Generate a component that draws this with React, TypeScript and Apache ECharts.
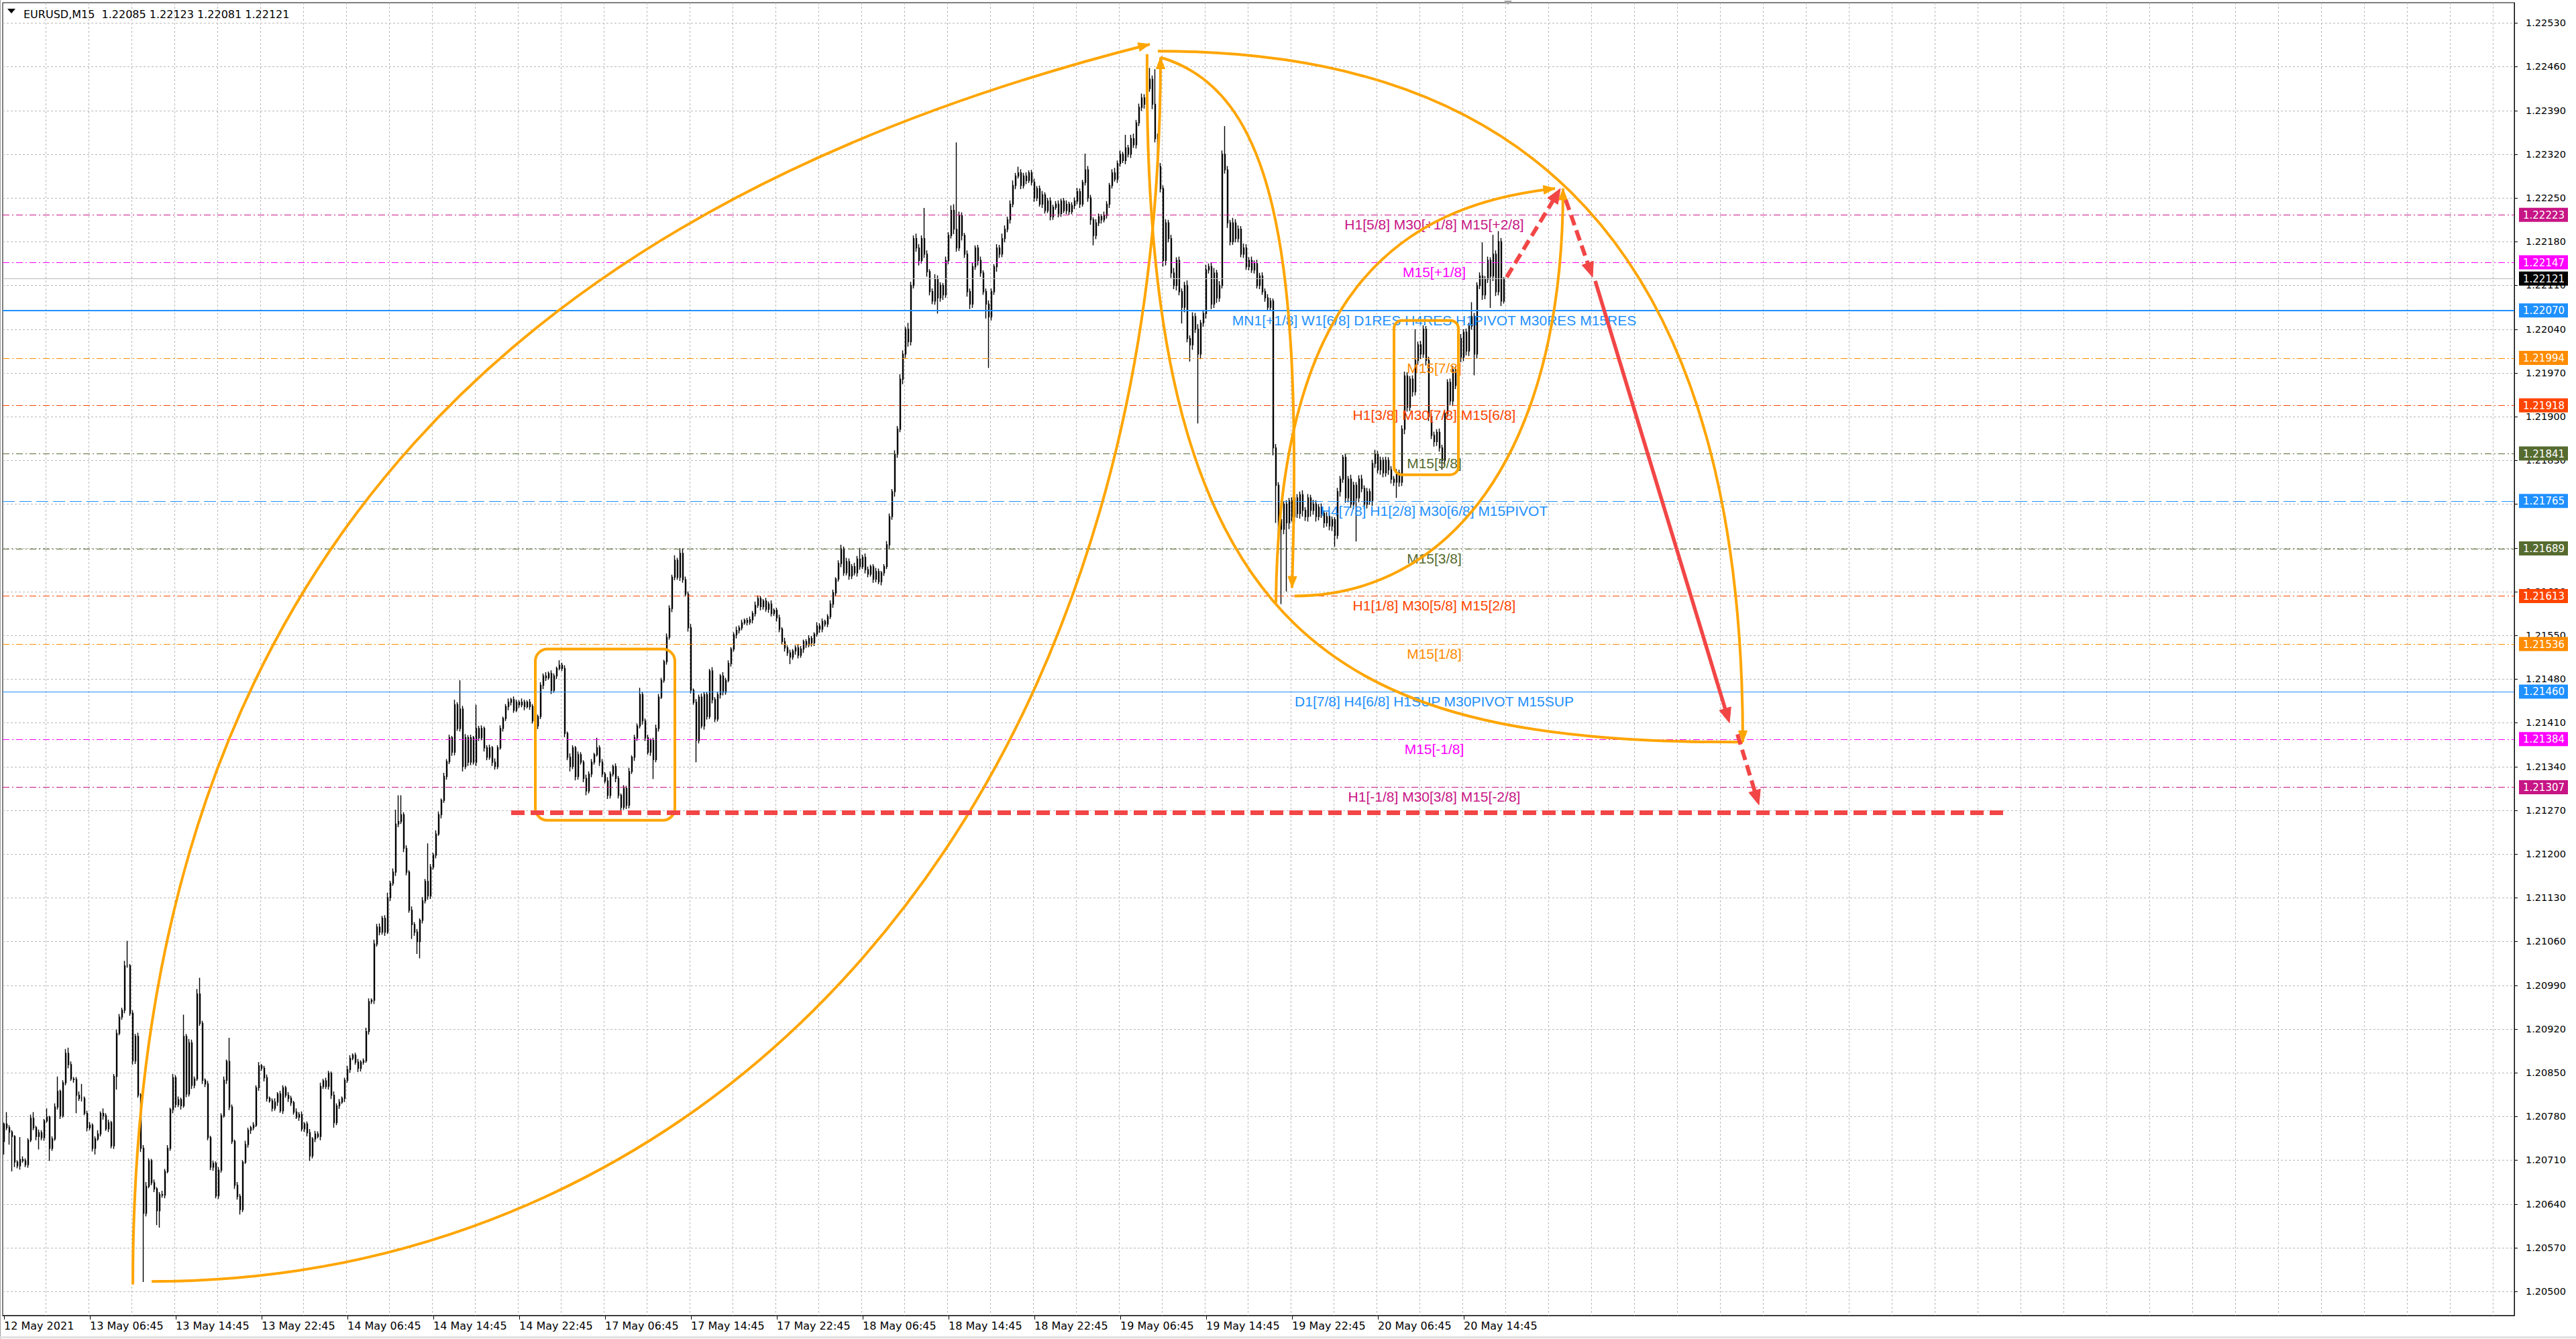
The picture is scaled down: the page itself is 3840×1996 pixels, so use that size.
import React, { useEffect, useRef } from 'react';
import * as echarts from 'echarts';

// ---- header / axes ----
const HEADER = 'EURUSD,M15  1.22085 1.22123 1.22081 1.22121';

const TIME_LABELS = [
  '12 May 2021', '13 May 06:45', '13 May 14:45', '13 May 22:45', '14 May 06:45',
  '14 May 14:45', '14 May 22:45', '17 May 06:45', '17 May 14:45', '17 May 22:45',
  '18 May 06:45', '18 May 14:45', '18 May 22:45', '19 May 06:45', '19 May 14:45',
  '19 May 22:45', '20 May 06:45', '20 May 14:45',
];
const BARS_PER_LABEL = 32;
const BARS_PER_GRID = 16;
const SLOT_COUNT = 936;

const PRICE_TICKS = [
  1.205, 1.2057, 1.2064, 1.2071, 1.2078, 1.2085, 1.2092, 1.2099, 1.2106, 1.2113,
  1.212, 1.2127, 1.2134, 1.2141, 1.2148, 1.2155, 1.2162, 1.2169, 1.2176, 1.2183,
  1.219, 1.2197, 1.2204, 1.2211, 1.2218, 1.2225, 1.2232, 1.2239, 1.2246, 1.2253,
];
const PRICE_TICK_LABELS = [
  '1.20500', '1.20570', '1.20640', '1.20710', '1.20780', '1.20850', '1.20920', '1.20990', '1.21060', '1.21130',
  '1.21200', '1.21270', '1.21340', '1.21410', '1.21480', '1.21550', '1.21620', '1.21690', '1.21760', '1.21830',
  '1.21900', '1.21970', '1.22040', '1.22110', '1.22180', '1.22250', '1.22320', '1.22390', '1.22460', '1.22530',
];
const Y_MIN = 1.204614;
const Y_MAX = 1.225625;

// ---- M15 candles: prices in points above 1.20000 ----
const FIRST_OPEN = 740;
const CLOSE_PTS = [
  768, 762, 755, 748, 707, 701, 711, 709, 703, 742, 777, 762, 748, 754, 746, 773, 779, 729, 744, 795,
  820, 781, 834, 881, 863, 840, 839, 814, 809, 809, 785, 762, 766, 729, 744, 752, 785, 781, 760, 770,
  733, 844, 913, 939, 950, 1021, 1021, 945, 869, 908, 814, 729, 625, 668, 709, 674, 664, 629, 655, 654,
  692, 729, 791, 842, 799, 807, 797, 908, 816, 898, 830, 840, 976, 929, 838, 832, 746, 699, 705, 653,
  694, 781, 838, 868, 795, 740, 670, 652, 631, 707, 735, 758, 762, 766, 826, 861, 857, 842, 809, 805,
  793, 803, 816, 789, 826, 814, 809, 802, 787, 779, 783, 760, 768, 754, 717, 744, 752, 748, 828, 837,
  828, 849, 814, 770, 797, 803, 809, 838, 855, 873, 878, 867, 857, 867, 869, 916, 964, 966, 1056, 1083,
  1075, 1097, 1075, 1130, 1153, 1171, 1248, 1252, 1263, 1209, 1171, 1110, 1087, 1075, 1060, 1094, 1125, 1156, 1133, 1179,
  1198, 1232, 1263, 1286, 1324, 1348, 1386, 1363, 1439, 1401, 1432, 1340, 1386, 1347, 1386, 1347, 1401, 1386, 1401, 1370,
  1355, 1370, 1347, 1340, 1370, 1401, 1417, 1436, 1443, 1447, 1430, 1443, 1439, 1443, 1436, 1443, 1436, 1413, 1405, 1420,
  1470, 1485, 1482, 1489, 1462, 1485, 1497, 1502, 1497, 1393, 1355, 1340, 1370, 1324, 1359, 1347, 1321, 1301, 1328, 1347,
  1359, 1370, 1347, 1328, 1317, 1294, 1328, 1340, 1321, 1294, 1275, 1305, 1278, 1332, 1355, 1386, 1405, 1455, 1413, 1386,
  1363, 1382, 1351, 1401, 1451, 1478, 1508, 1547, 1593, 1643, 1670, 1643, 1681, 1639, 1616, 1562, 1462, 1443, 1382, 1451,
  1405, 1455, 1420, 1493, 1447, 1416, 1455, 1485, 1459, 1478, 1505, 1528, 1551, 1558, 1562, 1570, 1574, 1571, 1575, 1585,
  1598, 1609, 1596, 1605, 1592, 1600, 1585, 1590, 1578, 1560, 1540, 1530, 1522, 1515, 1525, 1530, 1518, 1528, 1540, 1535,
  1545, 1538, 1552, 1565, 1560, 1572, 1568, 1580, 1600, 1618, 1640, 1665, 1688, 1650, 1668, 1645, 1660, 1650, 1672, 1660,
  1675, 1655, 1648, 1660, 1640, 1652, 1636, 1650, 1660, 1695, 1740, 1780, 1840, 1880, 1960, 2000, 2040, 2020, 2110, 2185,
  2170, 2150, 2185, 2160, 2132, 2100, 2085, 2120, 2090, 2110, 2095, 2150, 2190, 2230, 2200, 2170, 2222, 2190, 2160, 2100,
  2080, 2140, 2170, 2150, 2130, 2100, 2080, 2060, 2100, 2140, 2170, 2160, 2185, 2200, 2215, 2240, 2270, 2285, 2290, 2270,
  2285, 2278, 2290, 2275, 2250, 2265, 2240, 2255, 2230, 2245, 2220, 2235, 2240, 2225, 2245, 2230, 2240, 2228, 2238, 2245,
  2260, 2240, 2275, 2295, 2250, 2215, 2190, 2210, 2220, 2215, 2222, 2240, 2270, 2290, 2280, 2305, 2320, 2310, 2330, 2320,
  2345, 2335, 2370, 2395, 2410, 2400, 2425, 2440, 2400, 2345, 2300, 2265, 2150, 2210, 2185, 2130, 2110, 2150, 2100, 2075,
  2110, 2025, 2015, 2060, 2040, 2000, 2050, 2065, 2135, 2140, 2080, 2130, 2090, 2110, 2320, 2295, 2210, 2180, 2210, 2185,
  2200, 2160, 2170, 2140, 2150, 2135, 2145, 2110, 2125, 2100, 2090, 2075, 2085, 1850, 1790, 1735, 1720, 1760, 1730, 1765,
  1740, 1770, 1745, 1775, 1750, 1740, 1770, 1750, 1760, 1740, 1755, 1745, 1730, 1740, 1725, 1735, 1710, 1780, 1800, 1835,
  1770, 1800, 1760, 1790, 1770, 1800, 1785, 1760, 1780, 1765, 1825, 1840, 1815, 1830, 1810, 1830, 1815, 1800, 1795, 1810,
  1795, 1880, 1965, 1915, 1960, 1940, 1990, 2015, 2000, 2040, 1990, 1900, 1870, 1860, 1875, 1850, 1830, 1905, 1955, 1925,
  1975, 1950, 2025, 1995, 2035, 2005, 2045, 2060, 2000, 2110, 2125, 2095, 2120, 2150, 2125, 2160, 2100, 2180, 2085, 2121,
];
// wick length above the body / below the body, in points
const UPPER_WICK = [
  2, 19, 4, 3, 2, 3, 36, 5, 4, 3, 6, 10, 3, 5, 4, 3, 14, 2, 4, 6,
  24, 3, 4, 7, 9, 5, 3, 4, 6, 23, 3, 4, 5, 3, 4, 6, 3, 8, 4, 5,
  3, 4, 6, 5, 4, 8, 40, 3, 5, 4, 6, 3, 5, 7, 4, 3, 5, 3, 4, 6,
  4, 5, 3, 6, 4, 5, 3, 35, 4, 6, 5, 4, 8, 26, 4, 3, 5, 3, 4, 3,
  5, 4, 6, 3, 38, 4, 3, 5, 4, 3, 6, 4, 3, 5, 4, 6, 3, 4, 5, 3,
  4, 6, 3, 5, 4, 3, 5, 4, 3, 6, 4, 5, 3, 4, 6, 3, 5, 4, 6, 3,
  5, 4, 3, 6, 4, 5, 3, 4, 6, 5, 3, 4, 5, 3, 4, 6, 5, 3, 7, 5,
  6, 4, 5, 8, 4, 6, 23, 42, 31, 4, 5, 3, 6, 4, 5, 3, 6, 4, 61, 5,
  4, 6, 5, 3, 6, 4, 5, 3, 8, 4, 46, 5, 6, 4, 5, 3, 38, 4, 5, 3,
  4, 5, 3, 6, 4, 5, 3, 4, 6, 3, 5, 4, 3, 6, 4, 3, 5, 4, 6, 3,
  5, 4, 6, 3, 5, 4, 3, 8, 4, 5, 3, 6, 4, 3, 5, 4, 3, 6, 4, 5,
  3, 16, 4, 5, 3, 6, 4, 3, 5, 4, 3, 5, 4, 6, 3, 5, 4, 11, 5, 4,
  5, 3, 4, 6, 5, 4, 3, 6, 5, 4, 8, 4, 8, 8, 5, 4, 6, 3, 5, 4,
  6, 4, 5, 3, 6, 4, 5, 3, 6, 4, 5, 3, 4, 6, 4, 5, 3, 4, 5, 4,
  6, 5, 4, 3, 5, 4, 6, 3, 4, 5, 3, 6, 4, 5, 3, 4, 6, 5, 3, 4,
  5, 4, 3, 6, 4, 5, 3, 4, 6, 5, 3, 5, 7, 4, 6, 5, 4, 6, 5, 18,
  4, 6, 5, 3, 4, 6, 5, 3, 4, 6, 5, 4, 6, 5, 8, 6, 4, 10, 6, 5,
  8, 6, 5, 49, 6, 4, 5, 8, 6, 5, 4, 6, 5, 8, 10, 139, 6, 5, 4, 6,
  5, 6, 4, 5, 6, 4, 5, 6, 5, 4, 6, 5, 8, 6, 5, 6, 8, 5, 10, 6,
  5, 6, 4, 5, 6, 4, 5, 6, 4, 5, 6, 4, 5, 6, 4, 5, 6, 4, 5, 6,
  6, 5, 4, 26, 6, 5, 4, 6, 5, 4, 6, 5, 4, 6, 8, 5, 6, 4, 21, 5,
  6, 8, 5, 6, 7, 6, 8, 18, 6, 56, 8, 6, 5, 6, 5, 6, 8, 5, 6, 5,
  6, 8, 5, 7, 6, 8, 5, 6, 8, 5, 6, 8, 5, 7, 6, 45, 6, 5, 8, 6,
  6, 5, 7, 6, 5, 6, 5, 6, 5, 6, 5, 6, 5, 4, 6, 5, 6, 5, 6, 5,
  6, 5, 6, 5, 7, 5, 6, 5, 7, 6, 5, 6, 5, 7, 6, 5, 4, 6, 5, 4,
  6, 5, 7, 6, 5, 6, 7, 5, 6, 5, 6, 7, 5, 6, 5, 6, 5, 6, 5, 6,
  5, 6, 7, 6, 5, 6, 50, 5, 6, 6, 5, 6, 5, 6, 5, 6, 5, 6, 5, 6,
  6, 5, 6, 7, 5, 6, 5, 23, 6, 5, 6, 54, 5, 6, 5, 31, 6, 17, 6, 2,
];
const LOWER_WICK = [
  21, 4, 20, 56, 8, 4, 6, 3, 4, 5, 3, 4, 6, 21, 4, 5, 3, 20, 4, 3,
  4, 5, 3, 4, 6, 3, 5, 29, 4, 5, 3, 6, 4, 5, 10, 3, 4, 6, 3, 5,
  4, 5, 21, 3, 4, 5, 3, 4, 6, 5, 4, 6, 110, 5, 3, 4, 5, 23, 27, 4,
  5, 3, 4, 6, 5, 4, 6, 3, 5, 4, 6, 5, 3, 4, 6, 5, 4, 5, 6, 4,
  5, 4, 3, 6, 5, 4, 6, 5, 8, 4, 3, 5, 6, 4, 3, 5, 4, 6, 5, 3,
  5, 4, 6, 3, 5, 4, 6, 5, 4, 3, 6, 4, 5, 6, 8, 4, 5, 3, 6, 4,
  4, 5, 6, 8, 4, 5, 3, 6, 4, 5, 3, 4, 6, 5, 4, 3, 5, 4, 6, 4,
  5, 4, 6, 3, 5, 4, 6, 5, 4, 6, 5, 4, 23, 6, 20, 27, 5, 4, 6, 5,
  4, 5, 3, 6, 4, 5, 4, 6, 5, 4, 5, 8, 4, 6, 5, 4, 6, 5, 4, 6,
  5, 4, 6, 5, 4, 3, 5, 4, 6, 5, 4, 3, 5, 4, 6, 3, 5, 4, 6, 5,
  4, 6, 5, 3, 6, 4, 5, 3, 4, 6, 5, 8, 4, 6, 5, 4, 6, 7, 4, 5,
  4, 3, 6, 5, 4, 6, 5, 4, 6, 5, 7, 4, 6, 5, 4, 6, 5, 4, 6, 5,
  4, 6, 31, 4, 5, 3, 4, 5, 4, 6, 5, 4, 6, 5, 4, 6, 5, 4, 35, 5,
  4, 6, 5, 4, 6, 5, 4, 6, 5, 4, 3, 5, 4, 6, 5, 4, 3, 5, 4, 6,
  5, 4, 6, 5, 4, 6, 5, 4, 6, 5, 4, 6, 5, 11, 4, 6, 5, 4, 6, 5,
  4, 6, 5, 4, 6, 5, 4, 5, 4, 6, 5, 4, 6, 5, 4, 6, 5, 4, 6, 5,
  4, 6, 5, 4, 6, 5, 4, 6, 5, 4, 6, 5, 8, 6, 5, 8, 6, 8, 6, 5,
  6, 8, 5, 6, 8, 6, 5, 6, 25, 6, 8, 5, 6, 5, 8, 6, 5, 8, 6, 8,
  8, 6, 5, 8, 6, 5, 23, 82, 6, 5, 8, 6, 5, 6, 5, 6, 5, 6, 4, 6,
  5, 6, 4, 5, 6, 5, 4, 6, 5, 4, 6, 5, 4, 6, 5, 4, 6, 5, 4, 6,
  5, 6, 4, 5, 6, 8, 16, 6, 5, 6, 4, 5, 6, 5, 4, 6, 5, 4, 6, 5,
  6, 5, 6, 5, 6, 7, 6, 5, 8, 6, 8, 6, 10, 8, 6, 8, 6, 8, 6, 26,
  8, 6, 27, 8, 6, 111, 8, 6, 8, 6, 8, 6, 8, 6, 5, 6, 8, 6, 5, 6,
  6, 5, 6, 5, 6, 5, 6, 5, 6, 5, 6, 5, 6, 12, 60, 55, 120, 8, 110, 10,
  8, 10, 7, 8, 10, 7, 8, 10, 7, 8, 6, 7, 8, 6, 7, 8, 18, 6, 8, 6,
  8, 7, 6, 8, 70, 7, 6, 8, 7, 6, 8, 7, 6, 8, 7, 6, 8, 7, 6, 25,
  7, 6, 8, 7, 6, 8, 6, 7, 8, 6, 8, 7, 6, 8, 7, 6, 15, 8, 6, 7,
  8, 6, 7, 8, 6, 7, 8, 6, 34, 7, 6, 8, 7, 6, 51, 8, 7, 6, 8, 4,
];

// ---- Murrey-math style levels ----
const LEVEL_PRICES = [
  1.22223, 1.22147, 1.2207, 1.21994, 1.21918, 1.21841, 1.21765,
  1.21689, 1.21613, 1.21536, 1.2146, 1.21384, 1.21307,
];
const LEVEL_NAMES = [
  'H1[5/8] M30[+1/8] M15[+2/8]',
  'M15[+1/8]',
  'MN1[+1/8] W1[6/8] D1RES H4RES H1PIVOT M30RES M15RES',
  'M15[7/8]',
  'H1[3/8] M30[7/8] M15[6/8]',
  'M15[5/8]',
  'H4[7/8] H1[2/8] M30[6/8] M15PIVOT',
  'M15[3/8]',
  'H1[1/8] M30[5/8] M15[2/8]',
  'M15[1/8]',
  'D1[7/8] H4[6/8] H1SUP M30PIVOT M15SUP',
  'M15[-1/8]',
  'H1[-1/8] M30[3/8] M15[-2/8]',
];
const LEVEL_COLORS = [
  '#C71585', '#FF00FF', '#1E90FF', '#FF8C00', '#FF4500', '#556B2F', '#1E90FF',
  '#556B2F', '#FF4500', '#FF8C00', '#1E90FF', '#FF00FF', '#C71585',
];
const LEVEL_STROKES = [
  'dashdot', 'dashdot', 'solid', 'dashdot', 'dashdot', 'dashdot', 'dash',
  'dashdot', 'dashdot', 'dashdot', 'solid', 'dashdot', 'dashdot',
];
const LEVEL_WIDTHS = [1, 1, 2, 1, 1, 1, 1, 1, 1, 1, 1, 1, 1];
const LEVEL_NAME_BAR = 533;
const BID_PRICE = 1.22121;

// ---- hand-drawn analysis objects (bar index, price) ----
// cubic curves: start, control 1, control 2, end; arrow = arrowhead at end
const ORANGE_CURVES = [
  { p: [[47.5, 1.20511], [47.5, 1.21699], [200.5, 1.22251], [427.1, 1.22496]], arrow: true },
  { p: [[54.8, 1.20516], [261.8, 1.20516], [430.8, 1.21252], [430.8, 1.22475]], arrow: true },
  { p: [[430.1, 1.22485], [549.5, 1.22485], [647.5, 1.22251], [647.5, 1.21379]], arrow: true },
  { p: [[425.9, 1.2248], [424.0, 1.21515], [500.5, 1.21379], [647.5, 1.21379]], arrow: false },
  { p: [[430.8, 1.22475], [473.0, 1.22422], [484.0, 1.22172], [480.3, 1.21626]], arrow: true },
  { p: [[473.6, 1.21602], [474.8, 1.22094], [518.9, 1.22238], [578.3, 1.22265]], arrow: true },
  { p: [[480.9, 1.21613], [537.3, 1.21613], [580.7, 1.21831], [580.7, 1.22265]], arrow: true },
];
const ORANGE_BOXES = [
  { from: [198.1, 1.21528], to: [250.25, 1.21254], r: 18 },
  { from: [518.1, 1.22054], to: [542.35, 1.21807], r: 12 },
];
const RED_ARROWS = [
  { from: [560.3, 1.221233], to: [580.1, 1.22265], dashed: true },
  { from: [582.0, 1.222469], to: [592.4, 1.221233], dashed: true },
  { from: [593.0, 1.221172], to: [643.2, 1.2141], dashed: false },
  { from: [645.6, 1.213916], to: [653.6, 1.212786], dashed: true },
];
const TARGET_LINE = { from: [189.2, 1.21266], to: [746.7, 1.21266] };

const ORANGE = '#FFA500';
const RED = '#F24646';
const GRID_GRAY = '#b8b8b8';
const AXIS_FONT = "'DejaVu Sans', Verdana, sans-serif";
const LEVEL_FONT = "'Liberation Sans', Arial, sans-serif";

function buildCandles() {
  const out: number[][] = [];
  for (let i = 0; i < CLOSE_PTS.length; i++) {
    const o = i === 0 ? FIRST_OPEN : CLOSE_PTS[i - 1];
    const c = CLOSE_PTS[i];
    const h = Math.max(o, c) + UPPER_WICK[i];
    const l = Math.min(o, c) - LOWER_WICK[i];
    out.push([o, c, l, h].map((v) => +(1.2 + v / 100000).toFixed(5)));
  }
  return out;
}

function dashFor(kind: string): number[] | null {
  if (kind === 'solid') return null;
  if (kind === 'dash') return [18, 7];
  return [10, 4, 2, 4];
}

function arrowHead(tip: number[], from: number[], len: number, half: number, color: string) {
  const dx = tip[0] - from[0];
  const dy = tip[1] - from[1];
  const d = Math.hypot(dx, dy) || 1;
  const ux = dx / d;
  const uy = dy / d;
  const bx = tip[0] - ux * len;
  const by = tip[1] - uy * len;
  return {
    type: 'polygon',
    shape: { points: [tip, [bx - uy * half, by + ux * half], [bx + uy * half, by - ux * half]] },
    style: { fill: color, stroke: color, lineWidth: 1 },
  };
}

// horizontal line across the plot
function priceLine(api: any, cs: any, price: number, stroke: string, width: number, dash: number[] | null) {
  const y = Math.round(api.coord([0, price])[1]) + (width % 2 ? 0.5 : 0);
  return {
    type: 'line',
    shape: { x1: cs.x, y1: y, x2: cs.x + cs.width, y2: y },
    style: { stroke, lineWidth: width, lineDash: dash },
  };
}

// coloured price tag on the right-hand scale
function priceTag(api: any, cs: any, price: number, text: string, bg: string) {
  const y = api.coord([0, price])[1];
  const x = cs.x + cs.width + 7;
  return [
    { type: 'rect', shape: { x, y: y - 10.5, width: 73, height: 21 }, style: { fill: bg } },
    {
      type: 'text', x: x + 6, y: y + 0.5,
      style: { text, fill: '#fff', fontSize: 15, fontFamily: AXIS_FONT, align: 'left', verticalAlign: 'middle' },
    },
  ];
}

export default function App() {
  const ref = useRef<HTMLDivElement>(null);

  useEffect(() => {
    if (!ref.current) return;
    const chart = echarts.init(ref.current, undefined, { renderer: 'svg' });
    const slots = Array.from({ length: SLOT_COUNT }, (_, i) => String(i));
    const labelAt = (i: number) => i % BARS_PER_LABEL === 0 && i / BARS_PER_LABEL < TIME_LABELS.length;

    const option: any = {
      animation: false,
      backgroundColor: '#ffffff',
      title: {
        text: HEADER, left: 30, top: 8,
        textStyle: { fontSize: 16, fontWeight: 'normal', color: '#000', fontFamily: AXIS_FONT },
      },
      graphic: [
        { type: 'polygon', shape: { points: [[11, 13], [23, 13], [17, 20]] }, style: { fill: '#000' } },
        { type: 'polygon', shape: { points: [[2242, 1], [2254, 1], [2248, 7]] }, style: { fill: '#a0a0a0' } },
        { type: 'line', shape: { x1: 0.5, y1: 0, x2: 0.5, y2: 1996 }, style: { stroke: '#a0a0a0', lineWidth: 1 } },
        { type: 'line', shape: { x1: 0, y1: 1993.5, x2: 3840, y2: 1993.5 }, style: { stroke: '#e0e0e0', lineWidth: 3 } },
      ],
      grid: {
        left: 4, top: 4, right: 92, bottom: 35,
        show: true, borderColor: '#000', borderWidth: 1, backgroundColor: '#fff',
      },
      xAxis: {
        type: 'category',
        data: slots,
        boundaryGap: true,
        axisLine: { show: true, lineStyle: { color: '#000', width: 1 } },
        axisTick: {
          show: true, alignWithLabel: true, length: 6, interval: (i: number) => labelAt(i),
          lineStyle: { color: '#000' },
        },
        axisLabel: {
          show: true,
          interval: (i: number) => labelAt(i),
          formatter: (_v: string, i: number) => (labelAt(i) ? TIME_LABELS[i / BARS_PER_LABEL] : ''),
          align: 'left',
          margin: 7,
          color: '#000',
          fontSize: 16,
          fontFamily: AXIS_FONT,
        },
        splitLine: {
          show: true,
          interval: (i: number) => i > 0 && i % BARS_PER_GRID === 0,
          lineStyle: { color: GRID_GRAY, width: 1, type: [3, 3] },
        },
      },
      yAxis: {
        type: 'value',
        position: 'right',
        min: Y_MIN,
        max: Y_MAX,
        scale: true,
        axisLine: { show: true, lineStyle: { color: '#000' } },
        axisTick: { show: false },
        axisLabel: { show: false },
        splitLine: { show: false },
      },
      series: [
        {
          name: 'price grid',
          type: 'custom',
          z: 1,
          silent: true,
          clip: false,
          data: [[0, PRICE_TICKS[0]]],
          renderItem: (params: any, api: any) => {
            const cs = params.coordSys;
            const children: any[] = [];
            PRICE_TICKS.forEach((v, i) => {
              children.push(priceLine(api, cs, v, GRID_GRAY, 1, [3, 3]));
              const y = api.coord([0, v])[1];
              const xr = cs.x + cs.width;
              children.push({
                type: 'line', shape: { x1: xr, y1: Math.round(y) + 0.5, x2: xr + 5, y2: Math.round(y) + 0.5 },
                style: { stroke: '#000', lineWidth: 1 },
              });
              children.push({
                type: 'text', x: xr + 17, y,
                style: {
                  text: PRICE_TICK_LABELS[i], fill: '#000', fontSize: 14.5, fontFamily: AXIS_FONT,
                  align: 'left', verticalAlign: 'middle',
                },
              });
            });
            return { type: 'group', children };
          },
        },
        {
          name: 'EURUSD',
          type: 'candlestick',
          z: 3,
          data: buildCandles(),
          barWidth: 2,
          silent: true,
          itemStyle: {
            color: '#ffffff', color0: '#000000',
            borderColor: '#000000', borderColor0: '#000000', borderWidth: 1.4,
          },
        },
        {
          name: 'levels',
          type: 'custom',
          z: 4,
          silent: true,
          clip: false,
          data: [[0, LEVEL_PRICES[0]]],
          renderItem: (params: any, api: any) => {
            const cs = params.coordSys;
            const children: any[] = [];
            children.push(priceLine(api, cs, BID_PRICE, '#b8b8b8', 1, null));
            LEVEL_PRICES.forEach((v, i) => {
              children.push(priceLine(api, cs, v, LEVEL_COLORS[i], LEVEL_WIDTHS[i], dashFor(LEVEL_STROKES[i])));
            });
            LEVEL_PRICES.forEach((v, i) => {
              children.push(...priceTag(api, cs, v, v.toFixed(5), LEVEL_COLORS[i]));
            });
            children.push(...priceTag(api, cs, BID_PRICE, BID_PRICE.toFixed(5), '#000'));
            LEVEL_PRICES.forEach((v, i) => {
              const pt = api.coord([LEVEL_NAME_BAR, v]);
              children.push({
                type: 'text',
                x: pt[0],
                y: pt[1] + 4,
                style: {
                  text: LEVEL_NAMES[i], fill: LEVEL_COLORS[i], fontSize: 21,
                  fontFamily: LEVEL_FONT, align: 'center', verticalAlign: 'top',
                },
              });
            });
            return { type: 'group', children };
          },
        },
        {
          name: 'drawings',
          type: 'custom',
          z: 6,
          silent: true,
          clip: false,
          data: [[0, LEVEL_PRICES[0]]],
          renderItem: (_p: any, api: any) => {
            const children: any[] = [];
            ORANGE_CURVES.forEach((c) => {
              const [a, b, d, e] = c.p.map((q) => api.coord(q));
              children.push({
                type: 'bezierCurve',
                shape: { x1: a[0], y1: a[1], cpx1: b[0], cpy1: b[1], cpx2: d[0], cpy2: d[1], x2: e[0], y2: e[1] },
                style: { stroke: ORANGE, lineWidth: 4, fill: null },
              });
              if (c.arrow) children.push(arrowHead(e, d, 17, 6.5, ORANGE));
            });
            ORANGE_BOXES.forEach((bx) => {
              const a = api.coord(bx.from);
              const b = api.coord(bx.to);
              children.push({
                type: 'rect',
                shape: { x: a[0], y: a[1], width: b[0] - a[0], height: b[1] - a[1], r: bx.r },
                style: { stroke: ORANGE, lineWidth: 4, fill: null },
              });
            });
            const t0 = api.coord(TARGET_LINE.from);
            const t1 = api.coord(TARGET_LINE.to);
            children.push({
              type: 'line',
              shape: { x1: t0[0], y1: t0[1], x2: t1[0], y2: t1[1] },
              style: { stroke: RED, lineWidth: 7, lineDash: [20, 9] },
            });
            RED_ARROWS.forEach((r) => {
              const a = api.coord(r.from);
              const b = api.coord(r.to);
              const dx = b[0] - a[0];
              const dy = b[1] - a[1];
              const d = Math.hypot(dx, dy) || 1;
              const stop = [b[0] - (dx / d) * 14, b[1] - (dy / d) * 14];
              children.push({
                type: 'line',
                shape: { x1: a[0], y1: a[1], x2: stop[0], y2: stop[1] },
                style: { stroke: RED, lineWidth: r.dashed ? 6 : 5.5, lineDash: r.dashed ? [16, 8] : null },
              });
              children.push(arrowHead(b, a, 22, 9, RED));
            });
            return { type: 'group', children };
          },
        },
      ],
    };
    chart.setOption(option);
    return () => chart.dispose();
  }, []);

  return (
    <div
      ref={ref}
      style={{ position: 'fixed', left: 0, top: 0, width: 3840, height: 1996, background: '#fff' }}
    />
  );
}
